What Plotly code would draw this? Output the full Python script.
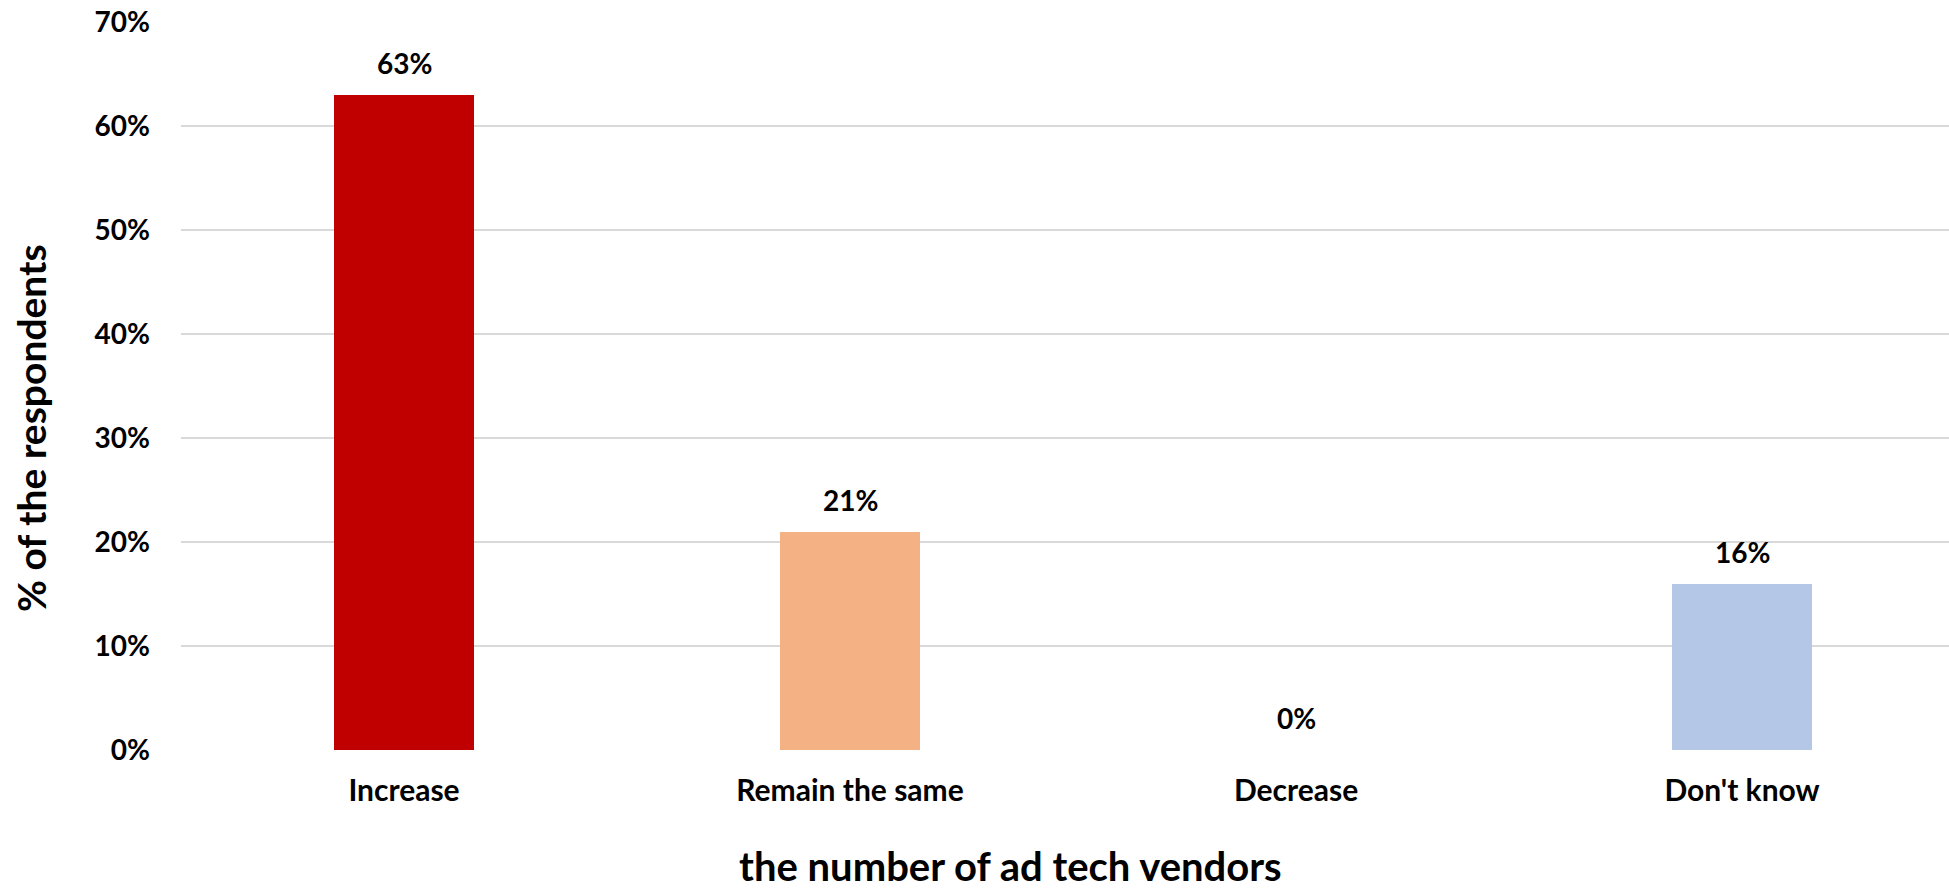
import plotly.graph_objects as go

# Survey responses: expected change in the number of ad tech vendors
categories = ["Increase", "Remain the same", "Decrease", "Don't know"]
shares = [63, 21, 0, 16]
bar_colors = ["#C00000", "#F4B183", "#B4C7E7", "#B4C7E7"]
y_ticks = [0, 10, 20, 30, 40, 50, 60, 70]
y_tick_labels = [f"{v}%" for v in y_ticks]

FONT = "Lato"
fig = go.Figure()
fig.add_trace(go.Bar(
    x=list(range(len(categories))),
    y=shares,
    marker=dict(color=bar_colors, line=dict(width=0)),
    width=0.314,
    hoverinfo="skip",
))

# value labels above each bar
for i, v in enumerate(shares):
    fig.add_annotation(
        x=i, y=v, text=f"{v}%", showarrow=False,
        yanchor="bottom", yshift=13,
        font=dict(family=FONT, size=28, color="#000000", weight="bold"),
    )

# axis titles
fig.add_annotation(
    xref="paper", yref="paper", x=(1010 - 181) / (1949 - 181), y=-(866 - 750) / 728,
    text="the number of ad tech vendors", showarrow=False,
    xanchor="center", yanchor="middle",
    font=dict(family=FONT, size=40, color="#000000", weight="bold"),
)
fig.add_annotation(
    xref="paper", yref="paper", x=-(181 - 31) / (1949 - 181), y=(750 - 428) / 728,
    text="% of the respondents", showarrow=False, textangle=-90,
    xanchor="center", yanchor="middle",
    font=dict(family=FONT, size=39, color="#000000", weight="bold"),
)

fig.update_layout(
    width=1949, height=889,
    margin=dict(l=181, r=0, t=22, b=139),
    paper_bgcolor="white", plot_bgcolor="white",
    showlegend=False, bargap=0,
    xaxis=dict(
        range=[-0.5, 3.464],
        tickmode="array", tickvals=list(range(len(categories))), ticktext=categories,
        showgrid=False, zeroline=False, showline=False, ticks="",
        ticklabelstandoff=20,
        tickfont=dict(family=FONT, size=30, color="#000000", weight="bold"),
    ),
    yaxis=dict(
        range=[0, 70],
        tickmode="array", tickvals=y_ticks, ticktext=y_tick_labels,
        showgrid=True, gridcolor="#D9D9D9", gridwidth=2,
        zeroline=False, showline=False, ticks="",
        ticklabelstandoff=30,
        tickfont=dict(family=FONT, size=28, color="#000000", weight="bold"),
    ),
)

fig.write_html("out.html")
